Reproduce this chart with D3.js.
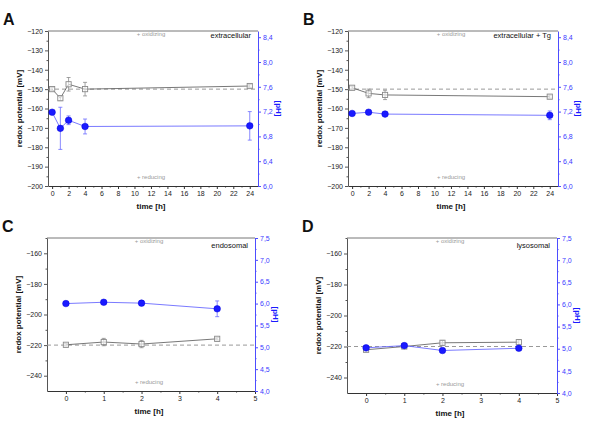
<!DOCTYPE html>
<html><head><meta charset="utf-8">
<script src="https://cdn.jsdelivr.net/npm/d3@7"></script>
<style>body{margin:0;background:#fff}svg{display:block;font-family:"Liberation Sans",Arial,sans-serif}</style>
</head><body><svg id="c" width="600" height="434"></svg>
<script>
// ---- data ----
const panelLabels = ["A", "B", "C", "D"];
const panelTitles = ["extracellular", "extracellular + Tg", "endosomal", "lysosomal"];

const timeA = [0, 1, 2, 4, 24];
const redoxA = [-150.0, -154.7, -147.5, -150.0, -148.4];
const redoxErrA = [0.8, 1.2, 3.5, 3.5, 0.8];
const pHA = [7.19, 6.93, 7.06, 6.96, 6.97];
const pHErrA = [0.02, 0.34, 0.07, 0.12, 0.23];

const timeB = [0, 2, 4, 24];
const redoxB = [-149.3, -152.2, -153.0, -153.9];
const redoxErrB = [0.8, 2.2, 2.4, 0.8];
const pHB = [7.17, 7.19, 7.16, 7.14];
const pHErrB = [0.02, 0.03, 0.03, 0.07];

const timeC = [0, 1, 2, 4];
const redoxC = [-219.8, -218.0, -219.3, -215.9];
const redoxErrC = [0.8, 2.4, 2.4, 0.8];
const pHC = [6.00, 6.03, 6.01, 5.88];
const pHErrC = [0.02, 0.03, 0.03, 0.18];

const timeD = [0, 1, 2, 4];
const redoxD = [-222.1, -220.0, -217.6, -217.2];
const redoxErrD = [0.8, 0.6, 1.5, 1.5];
const pHD = [5.02, 5.07, 4.96, 5.01];
const pHErrD = [0.02, 0.02, 0.02, 0.02];

const refRedox = [-150, -150, -220, -220];

const timeTicksAB = [0, 2, 4, 6, 8, 10, 12, 14, 16, 18, 20, 22, 24];
const timeTicksCD = [0, 1, 2, 3, 4, 5];
const redoxTicksAB = [-200, -190, -180, -170, -160, -150, -140, -130, -120];
const redoxTicksCD = [-240, -220, -200, -180, -160];
const pHTicksAB = [6.0, 6.4, 6.8, 7.2, 7.6, 8.0, 8.4];
const pHTicksCD = [4.0, 4.5, 5.0, 5.5, 6.0, 6.5, 7.0, 7.5];

const timeDomains = [[-0.5, 25], [-0.5, 25], [-0.5, 5], [-0.5, 5]];
const redoxDomains = [[-200, -120], [-200, -120], [-250, -150], [-250, -150]];
const pHDomains = [[6.0, 8.5], [6.0, 8.5], [4.0, 7.5], [4.0, 7.5]];

// ---- layout ----
const boxes = [
  {x0: 48, x1: 258, y0: 31, y1: 186},
  {x0: 348, x1: 558, y0: 31, y1: 186},
  {x0: 47, x1: 255, y0: 238, y1: 391},
  {x0: 347, x1: 557, y0: 238, y1: 393}
];
const panels = [
  {t: timeA, r: redoxA, re: redoxErrA, p: pHA, pe: pHErrA, tt: timeTicksAB, rt: redoxTicksAB, pt: pHTicksAB},
  {t: timeB, r: redoxB, re: redoxErrB, p: pHB, pe: pHErrB, tt: timeTicksAB, rt: redoxTicksAB, pt: pHTicksAB},
  {t: timeC, r: redoxC, re: redoxErrC, p: pHC, pe: pHErrC, tt: timeTicksCD, rt: redoxTicksCD, pt: pHTicksCD},
  {t: timeD, r: redoxD, re: redoxErrD, p: pHD, pe: pHErrD, tt: timeTicksCD, rt: redoxTicksCD, pt: pHTicksCD}
];

const BLUE = "#1a1aff", BLUEL = "#6b6bff", GRAY = "#8a8a8a", DARK = "#555";
const svg = d3.select("#c");
const comma = v => d3.format(".1f")(v).replace(".", ",");
const mids = arr => arr.slice(1).map((v, i) => (v + arr[i]) / 2);

panels.forEach((P, k) => {
  const b = boxes[k];
  const x = d3.scaleLinear().domain(timeDomains[k]).range([b.x0, b.x1]);
  const y = d3.scaleLinear().domain(redoxDomains[k]).range([b.y1, b.y0]);
  const y2 = d3.scaleLinear().domain(pHDomains[k]).range([b.y1, b.y0]);
  const g = svg.append("g");

  // top frame
  g.append("line").attr("x1", b.x0).attr("x2", b.x1).attr("y1", b.y0).attr("y2", b.y0)
    .attr("stroke", "#777").attr("stroke-width", 1);

  // minor ticks
  const minorT = mids(P.tt);
  const minorR = mids(P.rt).concat(k < 2 ? [] : [redoxDomains[k][1]]);
  const minorP = mids(P.pt);

  const xAxis = g.append("g").attr("transform", `translate(0,${b.y1})`)
    .call(d3.axisBottom(x).tickValues(P.tt).tickSize(3).tickSizeOuter(0).tickPadding(2).tickFormat(d3.format("d")));
  xAxis.select(".domain").attr("stroke", "#333");
  xAxis.selectAll("line").attr("stroke", "#333");
  xAxis.selectAll("text").attr("font-size", 7).attr("fill", "#222");
  g.append("g").attr("transform", `translate(0,${b.y1})`)
    .call(d3.axisBottom(x).tickValues(minorT).tickSize(1.5).tickFormat(""))
    .call(s => { s.select(".domain").remove(); s.selectAll("line").attr("stroke", "#333"); });

  const yAxis = g.append("g").attr("transform", `translate(${b.x0},0)`)
    .call(d3.axisLeft(y).tickValues(P.rt).tickSize(3).tickSizeOuter(0).tickPadding(2).tickFormat(d3.format("d")));
  yAxis.select(".domain").attr("stroke", "#555");
  yAxis.selectAll("line").attr("stroke", "#555");
  yAxis.selectAll("text").attr("font-size", 7).attr("fill", "#222");
  g.append("g").attr("transform", `translate(${b.x0},0)`)
    .call(d3.axisLeft(y).tickValues(minorR).tickSize(1.5).tickFormat(""))
    .call(s => { s.select(".domain").remove(); s.selectAll("line").attr("stroke", "#555"); });

  const y2Axis = g.append("g").attr("transform", `translate(${b.x1},0)`)
    .call(d3.axisRight(y2).tickValues(P.pt).tickSize(3).tickSizeOuter(0).tickPadding(2).tickFormat(comma));
  y2Axis.select(".domain").attr("stroke", "#4d4dff");
  y2Axis.selectAll("line").attr("stroke", "#4d4dff");
  y2Axis.selectAll("text").attr("font-size", 7).attr("fill", "#3b3bff");
  g.append("g").attr("transform", `translate(${b.x1},0)`)
    .call(d3.axisRight(y2).tickValues(minorP).tickSize(1.5).tickFormat(""))
    .call(s => { s.select(".domain").remove(); s.selectAll("line").attr("stroke", "#4d4dff"); });

  // reference dashed line
  g.append("line").attr("x1", b.x0).attr("x2", b.x1)
    .attr("y1", y(refRedox[k])).attr("y2", y(refRedox[k]))
    .attr("stroke", "#999").attr("stroke-dasharray", "4,3").attr("stroke-width", 1);

  // texts
  const cx = (b.x0 + b.x1) / 2;
  g.append("text").attr("x", cx - 2).attr("y", b.y0 + 5).attr("text-anchor", "middle")
    .attr("font-size", 6).attr("fill", "#999").text("+ oxidizing");
  g.append("text").attr("x", cx - 2).attr("y", b.y1 - 7).attr("text-anchor", "middle")
    .attr("font-size", 6).attr("fill", "#999").text("+ reducing");
  g.append("text").attr("x", b.x1 - 7).attr("y", b.y0 + (k < 2 ? 7 : 10)).attr("text-anchor", "end")
    .attr("font-size", 7.5).attr("fill", "#111").text(panelTitles[k]);
  g.append("text").attr("x", b.x0 - 45).attr("y", b.y0 - 6).attr("font-size", 16)
    .attr("font-weight", "bold").attr("fill", "#111").text(panelLabels[k]);
  g.append("text").attr("transform", `translate(${b.x0 - 26},${(b.y0 + b.y1) / 2}) rotate(-90)`)
    .attr("text-anchor", "middle").attr("font-size", 8).attr("font-weight", "bold").attr("fill", "#111")
    .text("redox potential [mV]");
  g.append("text").attr("transform", `translate(${b.x1 + 18},${(b.y0 + b.y1) / 2}) rotate(90)`)
    .attr("text-anchor", "middle").attr("font-size", 8).attr("font-weight", "bold").attr("fill", BLUE)
    .text("[pH]");
  g.append("text").attr("x", cx - 2).attr("y", b.y1 + 23).attr("text-anchor", "middle")
    .attr("font-size", 8).attr("font-weight", "bold").attr("fill", "#111").text("time [h]");

  const idx = P.t.map((_, i) => i);

  // redox series
  g.append("path").datum(idx).attr("fill", "none").attr("stroke", DARK).attr("stroke-width", 0.8)
    .attr("d", d3.line().x(i => x(P.t[i])).y(i => y(P.r[i])));
  idx.forEach(i => {
    const xx = x(P.t[i]);
    const ya = y(P.r[i] + P.re[i]), yb = y(P.r[i] - P.re[i]);
    g.append("line").attr("x1", xx).attr("x2", xx).attr("y1", ya).attr("y2", yb).attr("stroke", GRAY).attr("stroke-width", 0.8);
    [ya, yb].forEach(yy => g.append("line").attr("x1", xx - 2).attr("x2", xx + 2).attr("y1", yy).attr("y2", yy).attr("stroke", GRAY).attr("stroke-width", 0.8));
  });
  g.selectAll(null).data(idx).enter().append("rect")
    .attr("x", i => x(P.t[i]) - 2.6).attr("y", i => y(P.r[i]) - 2.6).attr("width", 5.2).attr("height", 5.2)
    .attr("fill", "#fff").attr("fill-opacity", 0.6).attr("stroke", GRAY).attr("stroke-width", 0.9);

  // pH series
  g.append("path").datum(idx).attr("fill", "none").attr("stroke", BLUEL).attr("stroke-width", 0.9)
    .attr("d", d3.line().x(i => x(P.t[i])).y(i => y2(P.p[i])));
  idx.forEach(i => {
    const xx = x(P.t[i]);
    const ya = y2(P.p[i] + P.pe[i]), yb = y2(P.p[i] - P.pe[i]);
    g.append("line").attr("x1", xx).attr("x2", xx).attr("y1", ya).attr("y2", yb).attr("stroke", BLUEL).attr("stroke-width", 0.8);
    [ya, yb].forEach(yy => g.append("line").attr("x1", xx - 2).attr("x2", xx + 2).attr("y1", yy).attr("y2", yy).attr("stroke", BLUEL).attr("stroke-width", 0.8));
  });
  g.selectAll(null).data(idx).enter().append("circle")
    .attr("cx", i => x(P.t[i])).attr("cy", i => y2(P.p[i])).attr("r", 3.3)
    .attr("fill", BLUE).attr("stroke", "#0000dd").attr("stroke-width", 0.5);
});
</script></body></html>
